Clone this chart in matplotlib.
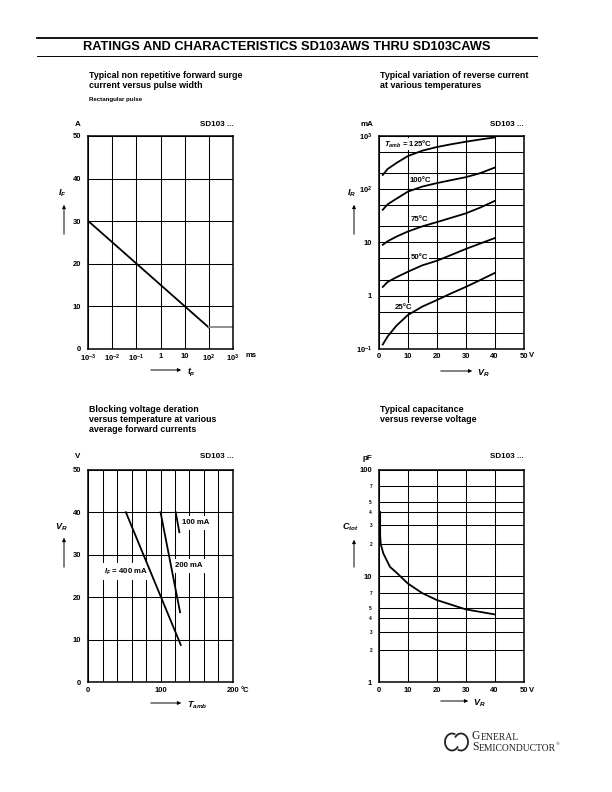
import numpy as np
import matplotlib
matplotlib.use("Agg")
import matplotlib.pyplot as plt
from matplotlib.lines import Line2D
from matplotlib.patches import FancyArrowPatch, Arc
from matplotlib.ticker import FixedLocator, NullFormatter, LogLocator

plt.rcParams['font.family'] = ['Liberation Sans', 'DejaVu Sans']
plt.rcParams['mathtext.fontset'] = 'custom'
plt.rcParams['mathtext.rm'] = 'Liberation Sans'
plt.rcParams['mathtext.it'] = 'Liberation Sans:italic:bold'
plt.rcParams['mathtext.bf'] = 'Liberation Sans:bold'

# --- data ---
# surge current vs pulse width
surge_tp = [1e-3, 1e-2, 1e-1, 1, 10, 100]
surge_if = [30, 25, 20, 15, 10, 5]
surge_flat_tp = [100, 1000]
surge_flat_if = [5, 5]
surge_xticks = [1e-3, 1e-2, 1e-1, 1, 10, 100, 1000]
surge_xlabels = [r'$\mathbf{10^{-3}}$', r'$\mathbf{10^{-2}}$', r'$\mathbf{10^{-1}}$', '1', '10',
                 r'$\mathbf{10^{2}}$', r'$\mathbf{10^{3}}$']

# reverse current vs reverse voltage
vr = [1.3, 3, 6, 10, 15, 20, 25, 30, 35, 40]
ir_125 = [185, 240, 310, 420, 530, 620, 700, 780, 860, 940]
ir_100 = [41, 52, 66, 90, 112, 130, 148, 168, 200, 254]
ir_75 = [9, 10.5, 12.8, 16, 20, 24, 29, 35, 45, 60]
ir_50 = [1.45, 1.8, 2.2, 2.8, 3.7, 4.5, 5.8, 7.5, 9.5, 12]
ir_25 = [0.12, 0.17, 0.27, 0.43, 0.62, 0.82, 1.1, 1.45, 1.95, 2.65]
ir_yticks = [0.1, 1, 10, 100, 1000]
ir_ylabels = [r'$\mathbf{10^{-1}}$', '1', '10', r'$\mathbf{10^{2}}$', r'$\mathbf{10^{3}}$']

# blocking voltage deration
t_400 = [52, 128]
v_400 = [40, 8.8]
t_200 = [100, 127]
v_200 = [40, 16.5]
t_100 = [121, 126]
v_100 = [40, 35.3]

# capacitance vs reverse voltage
cap_v = [0.4, 0.4, 0.6, 1.5, 3.8, 6, 10, 15, 20, 30, 40]
cap_c = [40, 24, 20, 16.3, 12.2, 10.8, 8.5, 6.9, 5.95, 4.86, 4.36]
cap_major = [1, 10, 100]
cap_major_labels = ['1', '10', '100']
cap_minor = [2, 3, 4, 5, 7, 20, 30, 40, 50, 70]
cap_minor_labels = ['2', '3', '4', '5', '7', '2', '3', '4', '5', '7']

W, H = 612, 792
fig = plt.figure(figsize=(W / 100, H / 100), dpi=100)

TICK = 5.5
TITLE = 6.4


def fx(px):
    return px / W


def fy(py):
    return 1 - py / H


def ftext(px, py, s, **kw):
    kw.setdefault('fontsize', 5.8)
    kw.setdefault('fontweight', 'bold')
    return fig.text(fx(px), fy(py), s, **kw)


def hline(x0, x1, y, lw):
    fig.add_artist(Line2D([fx(x0), fx(x1)], [fy(y), fy(y)], color='k', lw=lw,
                          transform=fig.transFigure))


def arrow(x0, y0, x1, y1):
    fig.add_artist(FancyArrowPatch((fx(x0), fy(y0)), (fx(x1), fy(y1)),
                                   transform=fig.transFigure, arrowstyle='-|>',
                                   mutation_scale=5, lw=0.7, color='k'))


def make_ax(left, top):
    ax = fig.add_axes([fx(left), fy(top + 212.7), fx(144.5), 212.7 / H])
    for s in ax.spines.values():
        s.set_linewidth(1.1)
    ax.tick_params(which='both', length=0, labelsize=TICK, pad=3)
    ax.tick_params(axis='y', pad=5)
    ax.grid(True, which='both', color='k', lw=0.75)
    ax.set_axisbelow(True)
    return ax


def bold_ticks(ax):
    for lab in (ax.get_xticklabels() + ax.get_yticklabels()
                + ax.get_yticklabels(minor=True)):
        lab.set_fontweight('bold')


# --- header ---
hline(36.7, 537, 37.7, 1.3)
hline(36.7, 537, 56, 0.7)
ftext(287, 47, 'RATINGS AND CHARACTERISTICS SD103AWS THRU SD103CAWS',
      fontsize=9.3, ha='center', va='center')

# --- chart 1: surge current ---
ax1 = make_ax(88.3, 136)
ax1.set_xscale('log')
ax1.set_xlim(1e-3, 1e3)
ax1.set_ylim(0, 50)
ax1.set_xticks(surge_xticks, surge_xlabels)
ax1.set_xticks([], minor=True)
ax1.set_yticks([0, 10, 20, 30, 40, 50])
ax1.plot(surge_tp, surge_if, color='k', lw=1.3)
ax1.plot(surge_flat_tp, surge_flat_if, color='#888888', lw=1.3)
bold_ticks(ax1)
ftext(88.7, 71, 'Typical non repetitive forward surge\ncurrent versus pulse width',
      fontsize=TITLE, va='top', linespacing=1.15)
ftext(88.7, 97, 'Rectangular pulse', fontsize=4.4, va='top')
ftext(78, 125, 'A', ha='center', va='center')
ftext(234, 125, 'SD103 ...', ha='right', va='center')
ftext(245, 355, 'ms', fontsize=TICK, va='center')
ftext(62, 193, r'$I_F$', fontsize=6.5, ha='center', va='center')
arrow(64, 237, 64, 202)
arrow(148, 370, 184, 370)
ftext(187, 372, r'$t_p$', fontsize=6.5, va='center')

# --- chart 2: reverse current ---
ax2 = make_ax(379, 136)
ax2.set_yscale('log')
ax2.set_xlim(0, 50)
ax2.set_ylim(0.1, 1000)
ax2.set_xticks([0, 10, 20, 30, 40, 50])
ax2.set_yticks(ir_yticks, ir_ylabels)
ax2.yaxis.set_minor_locator(LogLocator(base=10, subs=(2, 5)))
ax2.yaxis.set_minor_formatter(NullFormatter())
for ir in (ir_125, ir_100, ir_75, ir_50, ir_25):
    ax2.plot(vr, ir, color='k', lw=1.3, zorder=3)
bold_ticks(ax2)
tb = dict(fontsize=5.6, fontweight='bold', va='center', ha='left', zorder=2,
          bbox=dict(facecolor='white', edgecolor='none', pad=0.6))
ax2.text(1.6, 10 ** 2.85, r'$T_{amb}$ = 125°C', **tb)
ax2.text(10.6, 10 ** 2.17, '100°C', **tb)
ax2.text(11, 10 ** 1.43, '75°C', **tb)
ax2.text(11, 10 ** 0.71, '50°C', **tb)
ax2.text(5.4, 10 ** -0.22, '25°C', **tb)
ftext(380, 71, 'Typical variation of reverse current\nat various temperatures',
      fontsize=TITLE, va='top', linespacing=1.15)
ftext(367, 125, 'mA', ha='center', va='center')
ftext(524, 125, 'SD103 ...', ha='right', va='center')
ftext(529, 355, 'V', fontsize=TICK, va='center')
ftext(352, 193, r'$I_R$', fontsize=6.5, ha='center', va='center')
arrow(354, 237, 354, 202)
arrow(438, 371, 475, 371)
ftext(477, 373, r'$V_R$', fontsize=6.5, va='center')

# --- chart 3: blocking voltage deration ---
ax3 = make_ax(88.3, 469.7)
ax3.set_xlim(0, 200)
ax3.set_ylim(0, 50)
ax3.set_xticks([0, 100, 200])
ax3.xaxis.set_minor_locator(FixedLocator(np.arange(20, 200, 20)))
ax3.xaxis.set_minor_formatter(NullFormatter())
ax3.set_yticks([0, 10, 20, 30, 40, 50])
ax3.plot(t_400, v_400, color='k', lw=1.3, zorder=3)
ax3.plot(t_200, v_200, color='k', lw=1.3, zorder=3)
ax3.plot(t_100, v_100, color='k', lw=1.3, zorder=3)
bold_ticks(ax3)
tb3 = dict(fontsize=5.6, fontweight='bold', va='center', ha='left', zorder=2,
           bbox=dict(facecolor='white', edgecolor='none', pad=2.4))
ax3.text(129, 37.5, '100 mA', **tb3)
ax3.text(120, 27.4, '200 mA', **tb3)
ax3.text(22, 26, r'$I_F$ = 400 mA', **tb3)
ftext(88.7, 405, 'Blocking voltage deration\nversus temperature at various\naverage forward currents',
      fontsize=TITLE, va='top', linespacing=1.15)
ftext(78, 457, 'V', ha='center', va='center')
ftext(234, 457, 'SD103 ...', ha='right', va='center')
ftext(241, 690, '°C', fontsize=TICK, va='center')
ftext(61, 527, r'$V_R$', fontsize=6.5, ha='center', va='center')
arrow(64, 570, 64, 535)
arrow(148, 703, 184, 703)
ftext(187, 705, r'$T_{amb}$', fontsize=6.5, va='center')

# --- chart 4: capacitance ---
ax4 = make_ax(379, 469.7)
ax4.set_yscale('log')
ax4.set_xlim(0, 50)
ax4.set_ylim(1, 100)
ax4.set_xticks([0, 10, 20, 30, 40, 50])
ax4.set_yticks(cap_major, cap_major_labels)
ax4.set_yticks(cap_minor, cap_minor_labels, minor=True)
ax4.tick_params(axis='y', which='minor', labelsize=3.4, pad=5)
ax4.plot(cap_v, cap_c, color='k', lw=1.3, zorder=3)
bold_ticks(ax4)
ftext(380, 405, 'Typical capacitance\nversus reverse voltage',
      fontsize=TITLE, va='top', linespacing=1.15)
ftext(367, 458, 'pF', ha='center', va='center')
ftext(524, 457, 'SD103 ...', ha='right', va='center')
ftext(529, 690, 'V', fontsize=TICK, va='center')
ftext(350, 527, r'$C_{tot}$', fontsize=6.5, ha='center', va='center')
arrow(354, 570, 354, 537)
arrow(438, 701, 471, 701)
ftext(473, 703, r'$V_R$', fontsize=6.5, va='center')

# --- logo ---
for cx, t1, t2 in ((452, 60, 330), (461, 240, 150)):
    fig.add_artist(Arc((fx(cx), fy(742)), 14 / W, 17 / H, theta1=t1, theta2=t2,
                       transform=fig.transFigure, lw=1.3, color='#222222'))
serif = ['Liberation Serif', 'DejaVu Serif']
ann = dict(family=serif, fontsize=6.9, color='#222222', va='bottom', ha='left')
g1 = ftext(472, 739, 'G', family=serif, fontsize=8.4, fontweight='normal',
           va='baseline', color='#222222')
fig.add_artist(plt.Annotation('ENERAL', xy=(1, 0), xycoords=g1, **ann))
g2 = ftext(472, 750, 'S', family=serif, fontsize=8.4, fontweight='normal',
           va='baseline', color='#222222')
s2 = plt.Annotation('EMICONDUCTOR', xy=(1, 0), xycoords=g2, **ann)
fig.add_artist(s2)
fig.add_artist(plt.Annotation('®', xy=(1, 0.75), xycoords=s2, family=serif,
                              fontsize=3.5, color='#222222', va='bottom', ha='left'))

fig.savefig('out.png', dpi=100)
